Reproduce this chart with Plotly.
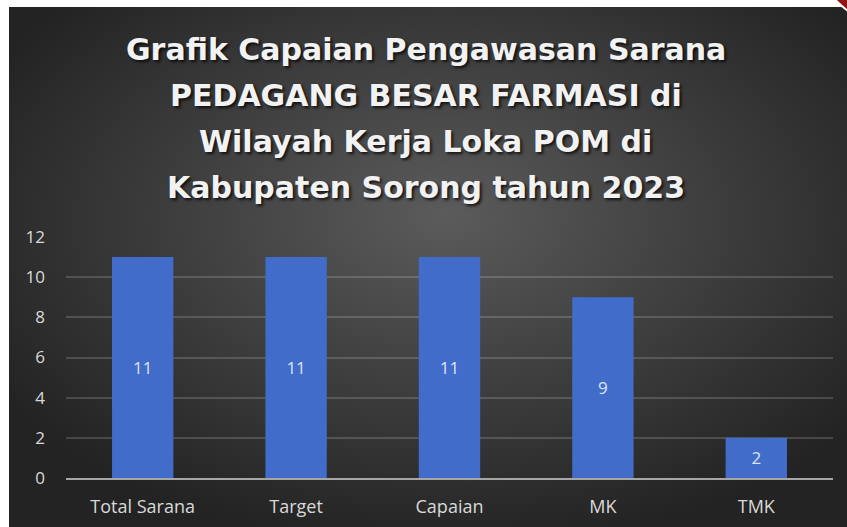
import base64
import plotly.graph_objects as go

categories = ["Total Sarana", "Target", "Capaian", "MK", "TMK"]
values = [11, 11, 11, 9, 2]
y_ticks = [0, 2, 4, 6, 8, 10, 12]
title_lines = [
    "Grafik Capaian Pengawasan Sarana",
    "PEDAGANG BESAR FARMASI di",
    "Wilayah Kerja Loka POM di",
    "Kabupaten Sorong tahun 2023",
]

W, H = 847, 527
L, R, T, B = 66, 14, 237, 49
PW, PH = W - L - R, H - T - B


def px_x(px):
    return (px - L) / PW


def px_y(py):
    return (H - B - py) / PH


svg = (
    '<svg xmlns="http://www.w3.org/2000/svg" width="838" height="520" '
    'preserveAspectRatio="none" viewBox="0 0 838 520">'
    '<defs><radialGradient id="g" cx="0.52" cy="0.42" r="0.62" fx="0.52" fy="0.40">'
    '<stop offset="0" stop-color="#5b5b5b"/>'
    '<stop offset="0.55" stop-color="#3c3c3c"/>'
    '<stop offset="1" stop-color="#232323"/>'
    '</radialGradient></defs>'
    '<rect width="838" height="520" fill="url(#g)"/></svg>'
)
bg_uri = "data:image/svg+xml;base64," + base64.b64encode(svg.encode()).decode()

fig = go.Figure()
fig.add_trace(go.Bar(
    x=categories,
    y=values,
    text=values,
    textposition="inside",
    insidetextanchor="middle",
    textfont=dict(family="Open Sans", size=17, color="#dce4f4"),
    marker=dict(color="#416cca", line=dict(width=0)),
    hoverinfo="skip",
))

annotations = []
line_centers = [49, 95, 141, 187]
for txt, yc in zip(title_lines, line_centers):
    annotations.append(dict(
        text="<b>" + txt + "</b>",
        x=px_x(W / 2 + 2),
        xref="paper", yref="paper",
        y=px_y(yc), yanchor="middle", xanchor="center",
        showarrow=False,
        font=dict(family="DejaVu Sans", size=30, color="#f2f2f2",
                  shadow="2px 2px 3px rgba(0,0,0,0.75)"),
    ))

fig.update_layout(
    width=W, height=H,
    margin=dict(l=L, r=R, t=T, b=B, pad=0, autoexpand=False),
    paper_bgcolor="white",
    plot_bgcolor="rgba(0,0,0,0)",
    showlegend=False,
    bargap=0.6,
    annotations=annotations,
    images=[dict(
        source=bg_uri, xref="paper", yref="paper",
        x=px_x(9), y=px_y(7), sizex=(W - 9) / PW, sizey=(H - 7) / PH,
        xanchor="left", yanchor="top", sizing="stretch", layer="below",
    )],
    shapes=[dict(
        type="circle", xref="paper", yref="paper",
        x0=px_x(812), x1=px_x(988), y0=px_y(-148), y1=px_y(28),
        fillcolor="#8e1515", line=dict(color="white", width=2), layer="above",
    )],
    xaxis=dict(
        showgrid=False,
        showline=True, linecolor="#a6a6a6", linewidth=2,
        ticks="",
        tickfont=dict(family="Open Sans", size=18, color="#d9d9d9"),
        ticklabelstandoff=11,
        automargin=False,
        fixedrange=True,
    ),
    yaxis=dict(
        range=[0, 12],
        tickvals=y_ticks,
        showgrid=True, gridcolor="rgba(255,255,255,0.16)", gridwidth=1.5,
        zeroline=False,
        showline=False,
        ticks="",
        tickfont=dict(family="Open Sans", size=17, color="#d9d9d9"),
        ticklabelstandoff=20,
        automargin=False,
        fixedrange=True,
    ),
)

fig.write_html(
    "out.html",
    config={"displayModeBar": False},
    post_script="document.body.style.margin='0';document.body.style.overflow='hidden';",
)
